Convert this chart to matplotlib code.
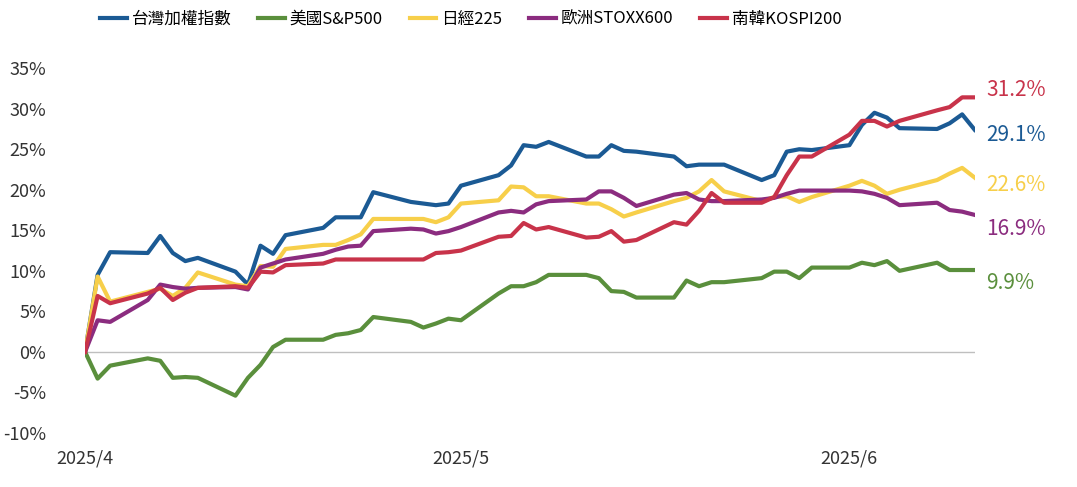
import matplotlib.pyplot as plt

plt.rcParams['font.family'] = ['Noto Sans CJK TC', 'Noto Sans CJK JP', 'Noto Sans CJK SC', 'DejaVu Sans']

days = [0, 1, 2, 5, 6, 7, 8, 9, 12, 13, 14, 15, 16, 19, 20, 21, 22, 23, 26, 27, 28, 29, 30,
        33, 34, 35, 36, 37, 40, 41, 42, 43, 44, 47, 48, 49, 50, 51, 54, 55, 56, 57, 58,
        61, 62, 63, 64, 65, 68, 69, 70, 71]

taiwan = [0, 9.5, 12.3, 12.2, 14.3, 12.2, 11.2, 11.6, 9.9, 8.3, 13.1, 12.1, 14.4, 15.3, 16.6, 16.6,
          16.6, 19.7, 18.5, 18.3, 18.1, 18.3, 20.5, 21.8, 23, 25.5, 25.3, 25.9, 24.1, 24.1, 25.5,
          24.8, 24.7, 24.1, 22.9, 23.1, 23.1, 23.1, 21.2, 21.8, 24.7, 25, 24.9, 25.5, 28, 29.5,
          28.9, 27.6, 27.5, 28.2, 29.3, 27.4]
sp500 = [0, -3.3, -1.7, -0.8, -1.1, -3.2, -3.1, -3.2, -5.4, -3.2, -1.6, 0.6, 1.5, 1.5, 2.1, 2.3,
         2.7, 4.3, 3.7, 3.0, 3.5, 4.1, 3.9, 7.2, 8.1, 8.1, 8.6, 9.5, 9.5, 9.1, 7.5, 7.4, 6.7, 6.7,
         8.8, 8.1, 8.6, 8.6, 9.1, 9.9, 9.9, 9.1, 10.4, 10.4, 11, 10.7, 11.2, 10, 11, 10.1, 10.1, 10.1]
nikkei = [0, 9.3, 6.2, 7.4, 7.8, 6.9, 7.9, 9.8, 8.3, 8.1, 10.6, 10.5, 12.7, 13.2, 13.2, 13.8,
          14.5, 16.4, 16.4, 16.4, 16.0, 16.6, 18.3, 18.7, 20.4, 20.3, 19.2, 19.2, 18.3, 18.3, 17.6,
          16.7, 17.2, 18.6, 19.0, 19.8, 21.2, 19.8, 18.6, 19.1, 19.2, 18.5, 19.1, 20.5, 21.1, 20.5,
          19.5, 20, 21.2, 22.0, 22.7, 21.5]
stoxx = [0, 3.9, 3.7, 6.4, 8.3, 8.0, 7.8, 7.9, 8.0, 7.7, 10.4, 10.9, 11.4, 12.1, 12.6, 13, 13.1,
         14.9, 15.2, 15.1, 14.6, 14.9, 15.4, 17.2, 17.4, 17.2, 18.2, 18.6, 18.8, 19.8, 19.8, 19,
         18, 19.4, 19.6, 18.8, 18.6, 18.6, 18.8, 19, 19.5, 19.9, 19.9, 19.9, 19.8, 19.5, 19, 18.1,
         18.4, 17.5, 17.3, 16.9]
kospi = [0, 6.9, 6.0, 7.2, 7.9, 6.4, 7.3, 7.9, 8.1, 7.9, 9.9, 9.8, 10.7, 10.9, 11.4, 11.4, 11.4,
         11.4, 11.4, 11.4, 12.2, 12.3, 12.5, 14.2, 14.3, 15.9, 15.1, 15.4, 14.1, 14.2, 14.9, 13.6,
         13.8, 16.0, 15.7, 17.4, 19.6, 18.4, 18.4, 19.1, 21.8, 24.1, 24.1, 26.8, 28.5, 28.5, 27.8,
         28.5, 29.8, 30.2, 31.4, 31.4]

names = ['台灣加權指數', '美國S&P500', '日經225', '歐洲STOXX600', '南韓KOSPI200']
colors = ['#1b5a94', '#5a8f3c', '#f7cf4a', '#8b2c7f', '#c8334a']
series = [taiwan, sp500, nikkei, stoxx, kospi]
end_labels = ['29.1%', '9.9%', '22.6%', '16.9%', '31.2%']
end_y = [26.8, 8.5, 20.6, 15.2, 32.3]

x_ticks = [0, 30, 61]
x_labels = ['2025/4', '2025/5', '2025/6']
y_ticks = list(range(-10, 40, 5))

fig = plt.figure(figsize=(10.77, 4.87), dpi=100)
ax = fig.add_axes([0.079, 0.111, 0.826, 0.749])

for name, vals, c in zip(names, series, colors):
    ax.plot(days, vals, color=c, lw=3, label=name)

for lab, yy, c in zip(end_labels, end_y, colors):
    ax.text(71.9, yy, lab, color=c, fontsize=15, va='center', ha='left')

ax.axhline(0, color='#bfbfbf', lw=1, zorder=0)
ax.set_xlim(0, 71)
ax.set_ylim(-10, 35)
ax.set_yticks(y_ticks)
ax.set_yticklabels([f'{v}%' for v in y_ticks], fontsize=13, color='#333333')
ax.set_xticks(x_ticks)
ax.set_xticklabels(x_labels, fontsize=13, color='#333333')
ax.tick_params(length=0)
ax.tick_params(axis='y', pad=28)
ax.tick_params(axis='x', pad=12)
for s in ax.spines.values():
    s.set_visible(False)

ax.legend(loc='lower left', bbox_to_anchor=(0.0, 1.07), ncol=5, frameon=False,
          fontsize=12, handlelength=1.6, columnspacing=1.6, handletextpad=0.3)

fig.savefig('out.png', dpi=100)
